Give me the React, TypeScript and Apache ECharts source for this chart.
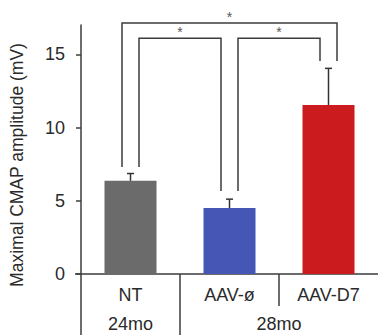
import React, { useEffect, useRef } from "react";
import * as echarts from "echarts";

const categories = ["NT", "AAV-ø", "AAV-D7"];
const means = [6.36, 4.5, 11.54];
const upperErrors = [0.5, 0.61, 2.5];
const barColors = ["#6b6b6b", "#4656b4", "#cc1b1f"];
const yTicks = [0, 5, 10, 15];
const yTitle = "Maximal CMAP amplitude (mV)";

const groupLabels = ["24mo", "28mo"];
const groupFrom = [0, 1];
const groupTo = [0, 2];

// significance brackets
const bracketFrom = [0, 1, 0];
const bracketTo = [1, 2, 2];
const bracketFromSide = [1, 1, -1];
const bracketToSide = [-1, -1, 1];
const bracketTop = [16.1, 16.1, 17.13];
const bracketFromEnd = [7.31, 5.66, 7.31];
const bracketToEnd = [5.66, 14.54, 14.54];
const bracketMark = ["*", "*", "*"];

const FONT = "'Liberation Sans', Arial, Helvetica, sans-serif";
const TEXT = "#2a2a2a";
const LINE = "#3c3c3c";

export default function App() {
  const ref = useRef<HTMLDivElement>(null);
  useEffect(() => {
    document.body.style.margin = "0";
    const chart = echarts.init(ref.current!, undefined, { renderer: "svg" });
    chart.setOption({
      animation: false,
      textStyle: { fontFamily: FONT },
      grid: { left: 81, top: 25, width: 309, height: 249 },
      xAxis: {
        type: "category",
        data: categories,
        axisLine: { show: true, lineStyle: { color: LINE, width: 1.5 } },
        axisTick: { show: false },
        axisLabel: { color: TEXT, fontSize: 18, margin: 12, fontFamily: FONT },
      },
      yAxis: {
        type: "value",
        min: 0,
        max: 17,
        interval: 5,
        axisLine: { show: true, lineStyle: { color: LINE, width: 1.5 } },
        axisTick: { show: true, inside: false, length: 5, lineStyle: { color: LINE, width: 1.5 }, customValues: yTicks },
        axisLabel: { color: TEXT, fontSize: 18, margin: 16, fontFamily: FONT, customValues: yTicks },
        splitLine: { show: false },
      },
      series: [
        {
          type: "bar",
          barWidth: 52,
          data: means.map((v, i) => ({ value: v, itemStyle: { color: barColors[i] } })),
        },
        {
          type: "custom",
          data: means.map((m, i) => [i, m, m + upperErrors[i]]),
          encode: { x: 0, y: 2 },
          z: 5,
          renderItem: (params: any, api: any) => {
            const p1 = api.coord([api.value(0), api.value(1)]);
            const p2 = api.coord([api.value(0), api.value(2)]);
            const st = { stroke: "#333", lineWidth: 1.5 };
            return {
              type: "group",
              children: [
                { type: "line", shape: { x1: p1[0], y1: p1[1], x2: p2[0], y2: p2[1] }, style: st },
                { type: "line", shape: { x1: p2[0] - 3.5, y1: p2[1], x2: p2[0] + 3.5, y2: p2[1] }, style: st },
              ],
            };
          },
        },
      ],
    });

    const px = (i: number, v: number) => chart.convertToPixel({ gridIndex: 0 }, [i, v]) as number[];
    const c0 = px(0, 0);
    const c1 = px(1, 0);
    const bw = c1[0] - c0[0];
    const axisY = c0[1];
    const off = 8.5;
    const graphics: any[] = [];
    const ls = { stroke: LINE, lineWidth: 1.5 };
    // axis extension & dividers
    graphics.push({ type: "line", shape: { x1: c0[0] - bw / 2 - 6, y1: axisY, x2: c0[0] - bw / 2, y2: axisY }, style: ls });
    graphics.push({ type: "line", shape: { x1: c0[0] - bw / 2, y1: axisY, x2: c0[0] - bw / 2, y2: 335 }, style: ls });
    graphics.push({ type: "line", shape: { x1: c0[0] + bw / 2, y1: axisY, x2: c0[0] + bw / 2, y2: 335 }, style: ls });
    graphics.push({ type: "line", shape: { x1: c1[0] + bw / 2, y1: axisY, x2: c1[0] + bw / 2, y2: axisY + 32 }, style: ls });
    // group labels
    groupLabels.forEach((g, k) => {
      const a = px(groupFrom[k], 0)[0];
      const b = px(groupTo[k], 0)[0];
      graphics.push({
        type: "text",
        x: (a + b) / 2,
        y: axisY + 50,
        style: { text: g, fill: TEXT, font: `18px ${FONT}`, align: "center", verticalAlign: "middle" },
      });
    });
    // y title
    graphics.push({
      type: "text",
      x: 17,
      y: 165,
      rotation: Math.PI / 2,
      style: { text: yTitle, fill: TEXT, font: `17.5px ${FONT}`, align: "center", verticalAlign: "middle" },
    });
    // brackets
    bracketFrom.forEach((f, k) => {
      const t = bracketTo[k];
      const xa = px(f, 0)[0] + bracketFromSide[k] * off;
      const xb = px(t, 0)[0] + bracketToSide[k] * off;
      const yt = px(f, bracketTop[k])[1];
      const ya = px(f, bracketFromEnd[k])[1];
      const yb = px(t, bracketToEnd[k])[1];
      graphics.push({
        type: "polyline",
        shape: { points: [[xa, ya], [xa, yt], [xb, yt], [xb, yb]] },
        style: { stroke: LINE, lineWidth: 1.5, fill: null },
      });
      graphics.push({
        type: "text",
        x: (xa + xb) / 2,
        y: yt - 6,
        style: { text: bracketMark[k], fill: "#555", font: `14px ${FONT}`, align: "center", verticalAlign: "middle" },
      });
    });
    chart.setOption({ graphic: graphics });
    return () => chart.dispose();
  }, []);
  return <div ref={ref} style={{ width: 378, height: 335 }} />;
}
